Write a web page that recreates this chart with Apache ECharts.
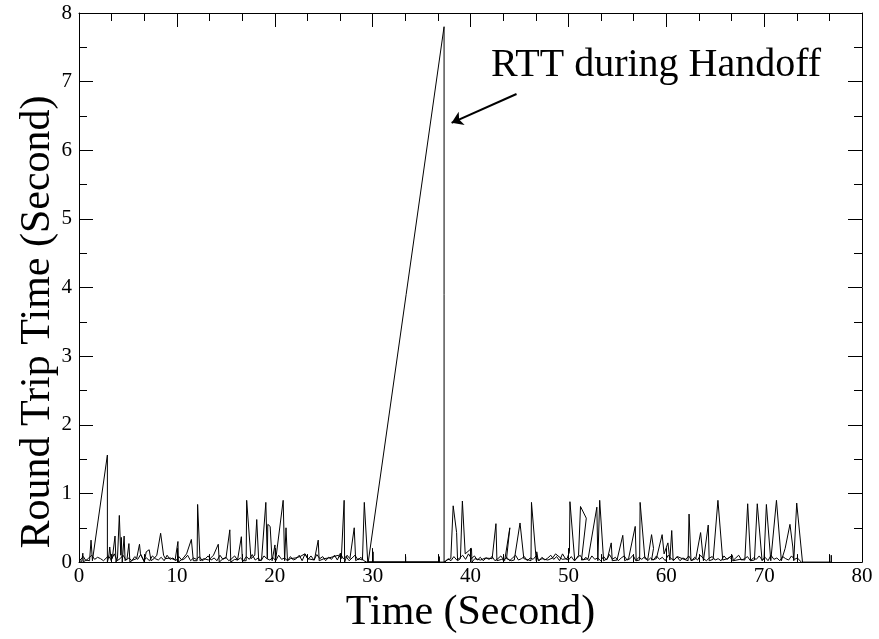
<!DOCTYPE html>
<html>
<head>
<meta charset="utf-8">
<script src="https://cdn.jsdelivr.net/npm/echarts@6/dist/echarts.min.js"></script>
<style>
  html, body { margin: 0; padding: 0; background: #fff; }
  #main { width: 879px; height: 639px; }
</style>
</head>
<body>
<div id="main"></div>
<script>
// time (s) of each RTT sample, in the order the trace draws them
var rttTime = [
  0.0, 0.29, 0.39, 0.44, 0.69, 0.88, 1.08, 1.23, 1.37, 2.9, 2.9, 3.04, 3.14, 3.29, 3.44, 3.68, 3.78, 3.93,
  4.12, 4.27, 4.32, 4.42, 4.61, 4.71, 4.91, 5.1, 5.2, 5.5, 5.89, 6.18, 6.28, 6.48, 6.67, 6.87, 7.17, 7.36,
  7.66, 7.95, 8.34, 8.64, 8.83, 9.33, 9.82, 10.11, 10.16, 10.6, 10.99, 11.48, 11.68, 12.07, 12.12, 12.37,
  12.76, 13.25, 13.74, 14.23, 14.33, 14.72, 15.02, 15.41, 15.51, 15.9, 16.2, 16.59, 16.69, 17.08, 17.13,
  17.57, 17.96, 18.16, 18.36, 18.65, 19.09, 19.24, 19.29, 19.53, 19.73, 20.02, 20.07, 20.22, 20.86,
  21.01, 21.15, 21.3, 21.6, 22.09, 22.58, 23.07, 23.36, 24.05, 24.44, 24.54, 25.03, 25.52, 26.01, 26.5,
  26.8, 27.09, 27.14, 27.39, 27.68, 28.12, 28.27, 28.56, 28.96, 29.15, 29.5, 30.04, 30.04, 30.04,
  33.37, 33.37, 33.37, 36.81, 36.81, 36.81, 29.55, 37.3, 37.3, 37.6, 37.99, 38.23, 38.58, 38.68, 38.97,
  39.17, 39.46, 40.1, 40.15, 40.44, 41.03, 41.52, 42.21, 42.6, 42.7, 43.19, 43.49, 44.02, 43.68, 44.17,
  44.47, 45.06, 45.45, 45.94, 46.18, 46.23, 46.72, 46.77, 46.92, 47.31, 47.9, 48.39, 48.69, 49.37, 49.87,
  50.11, 50.16, 50.65, 51.04, 51.24, 51.83, 51.34, 52.02, 52.91, 53.01, 53.2, 53.6, 53.99, 54.38, 54.48,
  54.97, 55.56, 55.75, 56.15, 56.83, 56.93, 57.28, 57.33, 57.82, 58.11, 58.5, 58.7, 58.5, 58.99, 59.58,
  59.78, 60.17, 60.37, 60.56, 60.71, 61.15, 61.64, 62.23, 62.33, 62.53, 63.02, 63.51, 63.8, 64.29, 64.39,
  64.79, 65.28, 65.77, 66.26, 66.75, 66.85, 67.53, 68.03, 68.32, 68.62, 69.01, 69.3, 69.79, 69.99, 70.23,
  70.68, 70.87, 71.26, 71.76, 72.15, 72.64, 72.93, 73.03, 73.33, 73.92, 76.86, 76.86, 76.86
];
// round trip time (s) for each sample above
var rttValue = [
  0.02, 0.01, 0.13, 0.0, 0.03, 0.05, 0.02, 0.32, 0.02, 1.56, 0.0, 0.08, 0.22, 0.02, 0.1, 0.38, 0.0, 0.05,
  0.68, 0.1, 0.36, 0.0, 0.38, 0.02, 0.05, 0.27, 0.0, 0.03, 0.05, 0.26, 0.12, 0.1, 0.0, 0.15, 0.18, 0.02,
  0.05, 0.1, 0.42, 0.1, 0.05, 0.06, 0.03, 0.3, 0.0, 0.05, 0.12, 0.33, 0.02, 0.02, 0.84, 0.02,
  0.05, 0.03, 0.1, 0.26, 0.0, 0.05, 0.06, 0.47, 0.0, 0.04, 0.03, 0.37, 0.02, 0.02, 0.9,
  0.05, 0.1, 0.62, 0.02, 0.03, 0.87, 0.05, 0.55, 0.52, 0.02, 0.25, 0.0, 0.02, 0.9,
  0.02, 0.5, 0.02, 0.05, 0.06, 0.08, 0.12, 0.05, 0.03, 0.32, 0.02, 0.05, 0.06, 0.08, 0.1,
  0.05, 0.9, 0.0, 0.1, 0.05, 0.5, 0.02, 0.05, 0.03, 0.87, 0.0, 0.0, 0.15, 0.0,
  0.0, 0.08, 0.0, 0.0, 0.08, 0.0, 0.0, 7.8, 0.0, 0.03, 0.05, 0.82, 0.43, 0.02, 0.05,
  0.89, 0.12, 0.2, 0.0, 0.05, 0.03, 0.06, 0.05, 0.56, 0.02, 0.04, 0.02, 0.5, 0.05, 0.02,
  0.03, 0.57, 0.05, 0.03, 0.02, 0.87, 0.02, 0.15, 0.02, 0.05, 0.03, 0.06, 0.12, 0.04, 0.05,
  0.15, 0.88, 0.02, 0.1, 0.81, 0.64, 0.03, 0.05, 0.8, 0.02, 0.9, 0.02, 0.05, 0.28, 0.02,
  0.03, 0.39, 0.02, 0.05, 0.52, 0.02, 0.03, 0.87, 0.05, 0.04, 0.4, 0.2, 0.03, 0.05, 0.4,
  0.12, 0.28, 0.03, 0.46, 0.02, 0.08, 0.05, 0.02, 0.7, 0.02, 0.05, 0.43, 0.02, 0.54, 0.02,
  0.04, 0.9, 0.03, 0.05, 0.1, 0.02, 0.04, 0.03, 0.85, 0.02, 0.03, 0.85, 0.02, 0.05, 0.84,
  0.02, 0.03, 0.9, 0.02, 0.2, 0.55, 0.22, 0.02, 0.86, 0.0, 0.0, 0.1, 0.0
];
// the dense low RTT samples that form the band along the bottom
var lowTime = [
  0.1, 0.45, 0.7, 1.0, 1.3, 1.6, 1.9, 2.2, 2.5, 3.0, 3.3, 3.6, 3.9, 4.2, 4.5, 4.8, 5.1, 5.4, 5.7, 6.0,
  6.3, 6.6, 6.9, 7.2, 7.5, 7.8, 8.1, 8.4, 8.7, 9.0, 9.3, 9.6, 9.9, 10.2, 10.5, 10.8, 11.1, 11.4, 11.7, 12.0,
  12.3, 12.6, 12.9, 13.2, 13.5, 13.8, 14.1, 14.4, 14.7, 15.0, 15.3, 15.6, 15.9, 16.2, 16.5, 16.8, 17.1, 17.4,
  17.7, 18.0, 18.3, 18.6, 18.9, 19.2, 19.5, 19.8, 20.1, 20.4, 20.7, 21.0, 21.3, 21.6, 21.9, 22.2, 22.5, 22.8,
  23.1, 23.4, 23.7, 24.0, 24.3, 24.6, 24.9, 25.2, 25.5, 25.8, 26.1, 26.4, 26.7, 27.0, 27.3, 27.6, 27.9, 28.2,
  28.5, 28.8, 29.1, 29.4, 37.4,
  37.7, 38.0, 38.3, 38.6, 38.9, 39.2, 39.5, 39.8, 40.1, 40.4, 40.7, 41.0, 41.3, 41.6, 41.9, 42.2, 42.5, 42.8,
  43.1, 43.4, 43.7, 44.0, 44.3, 44.6, 44.9, 45.2, 45.5, 45.8, 46.1, 46.4, 46.7, 47.0, 47.3, 47.6, 47.9, 48.2,
  48.5, 48.8, 49.1, 49.4, 49.7, 50.0, 50.3, 50.6, 50.9, 51.2, 51.5, 51.8, 52.1, 52.4, 52.7, 53.0, 53.3, 53.6,
  53.9, 54.2, 54.5, 54.8, 55.1, 55.4, 55.7, 56.0, 56.3, 56.6, 56.9, 57.2, 57.5, 57.8, 58.1, 58.4, 58.7, 59.0,
  59.3, 59.6, 59.9, 60.2, 60.5, 60.8, 61.1, 61.4, 61.7, 62.0, 62.3, 62.6, 62.9, 63.2, 63.5, 63.8, 64.1, 64.4,
  64.7, 65.0, 65.3, 65.6, 65.9, 66.2, 66.5, 66.8, 67.1, 67.4, 67.7, 68.0, 68.3, 68.6, 68.9, 69.2, 69.5, 69.8,
  70.1, 70.4, 70.7, 71.0, 71.3, 71.6, 71.9, 72.2, 72.5, 72.8, 73.1, 73.4, 73.8
];
var lowValue = [
  0.03, 0.08, 0.02, 0.06, 0.1, 0.04, 0.07, 0.05, 0.02, 0.09, 0.03, 0.12, 0.02, 0.05, 0.1, 0.03, 0.06, 0.02, 0.08, 0.04,
  0.11, 0.03, 0.06, 0.02, 0.09, 0.05, 0.03, 0.07, 0.02, 0.1, 0.04, 0.06, 0.02, 0.08, 0.03, 0.05, 0.1, 0.02, 0.06, 0.04,
  0.08, 0.02, 0.05, 0.09, 0.03, 0.06, 0.02, 0.1, 0.04, 0.07, 0.02, 0.05, 0.09, 0.03, 0.06, 0.02, 0.08, 0.04,
  0.11, 0.03, 0.06, 0.02, 0.09, 0.05, 0.03, 0.07, 0.02, 0.1, 0.04, 0.06, 0.02, 0.08, 0.03, 0.05, 0.1, 0.02,
  0.12, 0.04, 0.09, 0.03, 0.11, 0.05, 0.08, 0.02, 0.07, 0.04, 0.1, 0.03, 0.13, 0.05, 0.08, 0.02, 0.06, 0.1,
  0.03, 0.07, 0.02, 0.0, 0.0,
  0.05, 0.02, 0.08, 0.03, 0.06, 0.1, 0.04, 0.12, 0.05, 0.09, 0.03, 0.07, 0.02, 0.06, 0.04, 0.08, 0.02, 0.05,
  0.09, 0.03, 0.07, 0.02, 0.06, 0.1, 0.03, 0.05, 0.08, 0.02, 0.06, 0.04, 0.09, 0.02, 0.07, 0.03, 0.06, 0.1,
  0.04, 0.08, 0.02, 0.12, 0.05, 0.03, 0.08, 0.02, 0.06, 0.1, 0.03, 0.07, 0.02, 0.09, 0.04, 0.06, 0.02, 0.08,
  0.03, 0.11, 0.04, 0.07, 0.02, 0.06, 0.09, 0.03, 0.05, 0.1, 0.02, 0.07, 0.04, 0.08, 0.02, 0.06, 0.03, 0.09,
  0.04, 0.07, 0.02, 0.1, 0.05, 0.03, 0.08, 0.02, 0.06, 0.04, 0.09, 0.02, 0.07, 0.03, 0.1, 0.05, 0.02, 0.06,
  0.08, 0.03, 0.05, 0.02, 0.09, 0.04, 0.07, 0.02, 0.06, 0.1, 0.03, 0.05, 0.08, 0.02, 0.06, 0.04, 0.09, 0.03,
  0.07, 0.02, 0.1, 0.04, 0.06, 0.02, 0.08, 0.05, 0.03, 0.09, 0.04, 0.06, 0.0
];
var xTicks = [0, 10, 20, 30, 40, 50, 60, 70, 80];
var yTicks = [0, 1, 2, 3, 4, 5, 6, 7, 8];
var noteText = 'RTT during Handoff';
var arrowFrom = [44.7, 6.82];
var arrowTo = [38.07, 6.4];

var points = rttTime.map(function (t, i) { return [t, rttValue[i]]; });
var lowPoints = lowTime.map(function (t, i) { return [t, lowValue[i]]; });

var myChart = echarts.init(document.getElementById('main'), null, { renderer: 'canvas' });
var serif = 'Liberation Serif, Times New Roman, serif';

function axisBase(extra, split) {
    var a = {
        type: 'value',
        axisLine: { show: true, onZero: false, lineStyle: { color: '#000', width: 1 } },
        axisTick: { show: true, inside: true, length: 14, lineStyle: { color: '#000', width: 1 } },
        minorTick: { show: true, splitNumber: split, length: 8, lineStyle: { color: '#000', width: 1 } },
        splitLine: { show: false },
        axisLabel: { color: '#000', fontFamily: serif, fontSize: 21 }
    };
    for (var k in extra) a[k] = extra[k];
    return a;
}

var option = {
    animation: false,
    backgroundColor: '#fff',
    grid: { left: 79, right: 17, top: 13, bottom: 74, containLabel: false },
    xAxis: [
        axisBase({
            min: xTicks[0], max: xTicks[xTicks.length - 1], interval: 10,
            position: 'bottom',
            name: 'Time (Second)', nameLocation: 'middle', nameGap: 14,
            nameTextStyle: { color: '#000', fontFamily: serif, fontSize: 42 },
            axisLabel: { color: '#000', fontFamily: serif, fontSize: 21, margin: 4 }
        }, 3),
        axisBase({
            min: xTicks[0], max: xTicks[xTicks.length - 1], interval: 10,
            position: 'top', axisLabel: { show: false }
        }, 3)
    ],
    yAxis: [
        axisBase({
            min: yTicks[0], max: yTicks[yTicks.length - 1], interval: 1,
            position: 'left',
            axisLabel: { color: '#000', fontFamily: serif, fontSize: 21, margin: 7 }
        }, 2),
        axisBase({
            min: yTicks[0], max: yTicks[yTicks.length - 1], interval: 1,
            position: 'right', axisLabel: { show: false }
        }, 2)
    ],
    graphic: [{
        type: 'text',
        left: 491,
        top: 45,
        style: { text: noteText, fill: '#000', font: '40px ' + serif }
    }, {
        type: 'text',
        x: 38,
        y: 322,
        rotation: Math.PI / 2,
        style: {
            text: 'Round Trip Time (Second)', fill: '#000', font: '42px ' + serif,
            align: 'center', verticalAlign: 'middle'
        }
    }],
    series: [{
        type: 'line',
        data: lowPoints,
        showSymbol: false,
        symbol: 'none',
        lineStyle: { color: '#000', width: 1 }
    }, {
        type: 'line',
        data: points,
        showSymbol: false,
        symbol: 'none',
        lineStyle: { color: '#000', width: 1 },
        markLine: {
            silent: true,
            symbol: ['none', 'arrow'],
            symbolSize: 11,
            label: { show: false },
            lineStyle: { color: '#000', width: 2, type: 'solid' },
            data: [[{ coord: arrowFrom }, { coord: arrowTo }]]
        }
    }]
};

myChart.setOption(option);
</script>
</body>
</html>
